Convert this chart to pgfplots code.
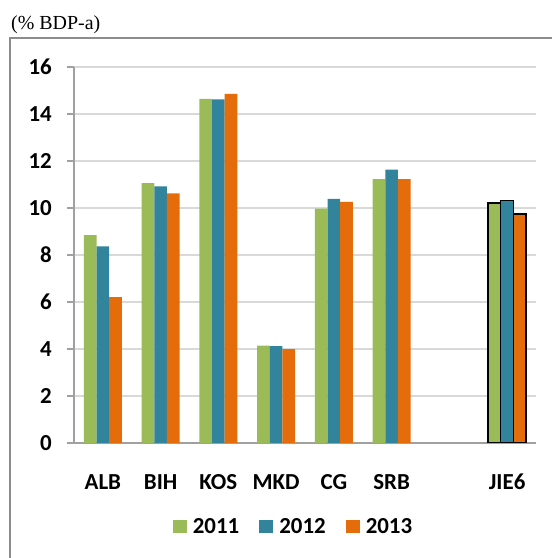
\documentclass[border=0pt]{standalone}
\usepackage{fontspec}
\setmainfont{Carlito}
\newfontfamily\serifttl{Liberation Serif}
\usepackage{pgfplots}
\pgfplotsset{compat=1.18}
\definecolor{cg}{HTML}{9BBB59}
\definecolor{cb}{HTML}{31849B}
\definecolor{co}{HTML}{E46C0A}
\definecolor{gridc}{HTML}{D9D9D9}
\definecolor{axc}{HTML}{A0A0A0}
\definecolor{framec}{HTML}{8C8C8C}
\begin{document}
\begin{tikzpicture}
\begin{axis}[
  at={(74bp,115bp)}, anchor=south west,
  scale only axis, width=462bp, height=376bp,
  xmin=-0.5, xmax=7.5, ymin=0, ymax=16,
  ybar=0pt, bar width=12.7bp,
  xtick={0,1,2,3,4,5,7},
  xticklabels={ALB,BIH,KOS,MKD,CG,SRB,JIE6},
  ytick={0,2,...,16},
  axis x line*=bottom, axis y line*=left,
  axis line style={color=axc, line width=1.6bp, -},
  x axis line style={shorten >=0pt},
  ymajorgrids, grid style={color=gridc, line width=1.6bp},
  tick align=outside,
  xtick style={draw=none},
  ytick style={color=axc, line width=1.6bp},
  major tick length=7bp,
  tick label style={font=\fontsize{23}{26}\selectfont\bfseries},
  yticklabel style={inner sep=0pt, anchor=east, xshift=-15bp},
  xticklabel style={inner sep=0pt, anchor=north, yshift=-24bp},
  /pgf/number format/assume math mode=true,
  legend columns=3,
  legend style={at={(0.473,-0.223)}, anchor=center, draw=none, fill=none,
    font=\fontsize{23}{26}\selectfont\bfseries,
    nodes={inner sep=0pt},
    /tikz/every odd column/.append style={column sep=6bp},
    /tikz/every even column/.append style={column sep=20bp}},
  legend image code/.code={\fill[#1] (0bp,-6.5bp) rectangle (14bp,6.5bp);},
]
\addplot[fill=cg, draw=none, bar shift=-12.7bp] coordinates {(0,8.85) (1,11.06) (2,14.64) (3,4.14) (4,9.97) (5,11.23)};
\addplot[fill=cb, draw=none, bar shift=0bp] coordinates {(0,8.37) (1,10.92) (2,14.62) (3,4.12) (4,10.39) (5,11.63)};
\addplot[fill=co, draw=none, bar shift=12.7bp] coordinates {(0,6.21) (1,10.62) (2,14.86) (3,3.99) (4,10.26) (5,11.23)};
\addplot[fill=cg, draw=black, line width=1.4bp, bar shift=-12.7bp, forget plot] coordinates {(7,10.22)};
\addplot[fill=cb, draw=black, line width=1.4bp, bar shift=0bp, forget plot] coordinates {(7,10.31)};
\addplot[fill=co, draw=black, line width=1.4bp, bar shift=12.7bp, forget plot] coordinates {(7,9.75)};
\legend{2011,2012,2013}
\end{axis}
\draw[framec, line width=1.8bp] (10bp,-10bp) -- (10bp,520bp) -- (570bp,520bp);
\node[anchor=base west, inner sep=0pt, font=\serifttl\fontsize{20}{24}\selectfont] at (11bp,528bp) {(\% BDP-a)};
\pgfresetboundingbox
\path[use as bounding box] (0bp,0bp) rectangle (552bp,558bp);
\end{tikzpicture}
\end{document}
